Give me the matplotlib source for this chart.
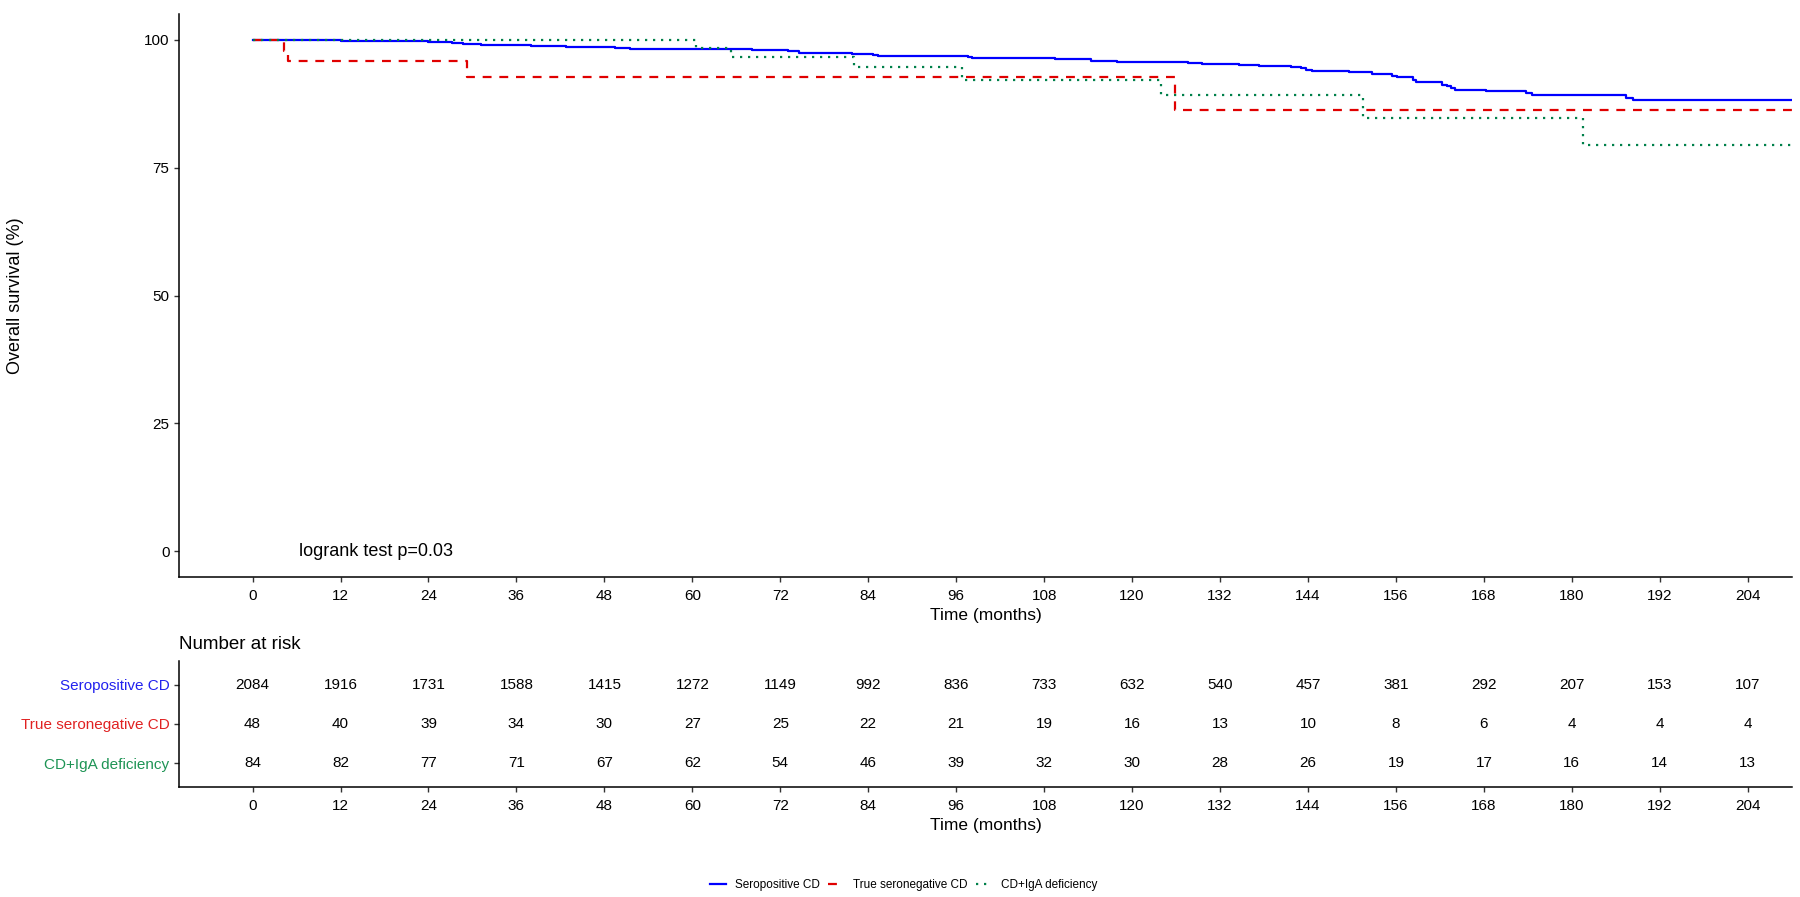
import numpy as np
import matplotlib.pyplot as plt

plt.rcParams['font.family'] = ['Liberation Sans', 'DejaVu Sans']

# кривые выживаемости (месяцы, %)
sero_t = [0, 12.1, 23.9, 27.2, 28.7, 31.1, 38.0, 42.7, 49.4, 51.5, 58.7, 68.2, 73.0,
          74.5, 81.8, 84.7, 85.4, 97.6, 98.2, 109.5, 110.2, 114.4, 115.7, 118.0,
          127.6, 129.6, 134.6, 137.3, 141.7, 143.1, 143.7, 144.5, 149.6, 152.8,
          155.5, 156.1, 158.3, 158.7, 162.3, 162.9, 163.5, 164.0, 168.3, 173.7,
          174.6, 187.4, 188.3, 214]
sero_s = [100, 99.71, 99.52, 99.33, 99.14, 99.01, 98.82, 98.69, 98.50, 98.31, 98.15,
          97.99, 97.79, 97.47, 97.28, 97.09, 96.90, 96.71, 96.51, 96.32, 96.19, 95.94,
          95.81, 95.62, 95.49, 95.30, 95.11, 94.92, 94.72, 94.47, 94.21, 94.02, 93.70,
          93.38, 93.00, 92.80, 92.10, 91.78, 91.27, 91.00, 90.63, 90.25, 90.05, 89.54,
          89.16, 88.65, 88.26, 88.26]

neg_t = [0, 4.3, 4.9, 29.3, 125.9, 214]
neg_s = [100, 97.9, 95.8, 92.7, 86.3, 86.3]

iga_t = [0, 60.5, 65.3, 82.0, 96.8, 123.9, 151.5, 181.5, 214]
iga_s = [100, 98.4, 96.7, 94.7, 92.2, 89.2, 84.8, 79.5, 79.5]

groups = ['Seropositive CD', 'True seronegative CD', 'CD+IgA deficiency']
colors = ['#0000FF', '#E00000', '#00804A']
label_colors = ['#2222EE', '#E02222', '#1E9455']

risk_times = list(range(0, 205, 12))
risk_sero = [2084, 1916, 1731, 1588, 1415, 1272, 1149, 992, 836, 733, 632, 540, 457, 381, 292, 207, 153, 107]
risk_neg = [48, 40, 39, 34, 30, 27, 25, 22, 21, 19, 16, 13, 10, 8, 6, 4, 4, 4]
risk_iga = [84, 82, 77, 71, 67, 62, 54, 46, 39, 32, 30, 28, 26, 19, 17, 16, 14, 13]

fig = plt.figure(figsize=(18, 8.97), dpi=100)
ax = fig.add_axes([0.0996, 0.3571, 0.8958, 0.6268])
axt = fig.add_axes([0.0996, 0.1230, 0.8958, 0.1401])

lw = 1.6
ax.step(sero_t, sero_s, where='post', color=colors[0], lw=lw, label=groups[0])
ax.step(neg_t, neg_s, where='post', color=colors[1], lw=lw, dashes=(4, 3.5), label=groups[1])
ax.step(iga_t, iga_s, where='post', color=colors[2], lw=lw, dashes=(1, 2.6), label=groups[2])

ax.text(6.4, 0, 'logrank test p=0.03', fontsize=13, ha='left', va='center')

for a in (ax, axt):
    a.set_xlim(-10, 210)
    a.set_xticks(risk_times)
    a.spines['top'].set_visible(False)
    a.spines['right'].set_visible(False)
    a.spines['left'].set_linewidth(1.1)
    a.spines['bottom'].set_linewidth(1.1)
    a.tick_params(length=3.5, width=1, labelsize=11, pad=3.5, colors='#333333', labelcolor='black')
    a.tick_params(axis='x', pad=5.5)
    a.set_xlabel('Time (months)', fontsize=12.5, labelpad=3.5)

ax.set_ylim(-5, 105)
ax.set_yticks([0, 25, 50, 75, 100])
ax.set_ylabel('Overall survival (%)', fontsize=13)
ax.yaxis.set_label_coords(-0.0963, 0.5)

# таблица числа под риском
rows = [risk_sero, risk_neg, risk_iga]
ypos = [3, 2, 1]
for r, y in zip(rows, ypos):
    for t, n in zip(risk_times, r):
        axt.text(t, y, str(n), ha='center', va='center', fontsize=11)
axt.set_ylim(0.4, 3.6)
axt.set_yticks(ypos)
axt.set_yticklabels(groups)
for lab, c in zip(axt.get_yticklabels(), label_colors):
    lab.set_color(c)

fig.text(0.0996, 0.282, 'Number at risk', fontsize=13.5, ha='left', va='center')

fig.legend(loc='center', bbox_to_anchor=(0.502, 0.0134), ncol=3, frameon=False,
           fontsize=8.5, handlelength=1.35, handletextpad=0.76, columnspacing=0.7)

fig.savefig('out.png', dpi=100)
